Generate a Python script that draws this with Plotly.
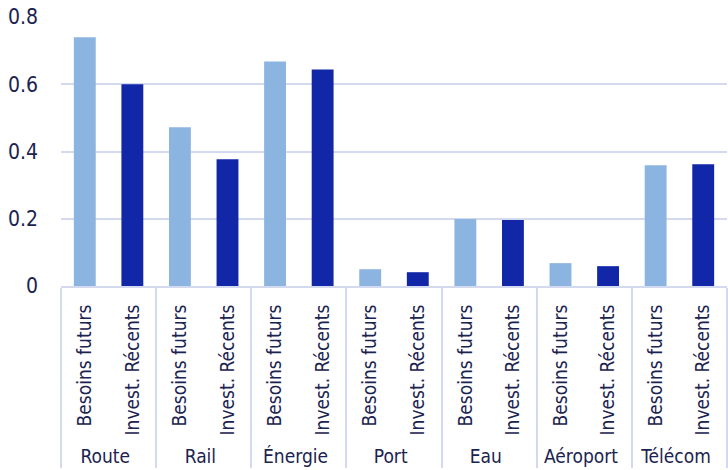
import plotly.graph_objects as go

groups = ["Route", "Rail", "Énergie", "Port", "Eau", "Aéroport", "Télécom"]
sub_labels = ["Besoins futurs", "Invest. Récents"]
besoins = [0.740, 0.472, 0.668, 0.050, 0.199, 0.068, 0.359]
invest = [0.600, 0.377, 0.644, 0.041, 0.196, 0.059, 0.362]
y_ticks = [0, 0.2, 0.4, 0.6, 0.8]
y_tick_text = ["0", "0.2", "0.4", "0.6", "0.8"]

outer, inner, vals, cols = [], [], [], []
for g, b, i in zip(groups, besoins, invest):
    outer += [g, g]
    inner += sub_labels
    vals += [b, i]
    cols += ["#8CB4E0", "#1226A8"]

FONT = "DejaVu Sans Condensed, Liberation Sans Narrow, sans-serif"
TXT = "#1B2350"

fig = go.Figure(go.Bar(x=[outer, inner], y=vals, marker=dict(color=cols, line_width=0), width=0.46))
fig.update_layout(
    width=728, height=470,
    margin=dict(l=61, r=1, t=17, b=184),
    plot_bgcolor="white", paper_bgcolor="white",
    font=dict(family=FONT, size=20, color=TXT),
    showlegend=False,
    bargap=0.5,
)
fig.update_xaxes(
    type="multicategory", tickangle=-90,
    showline=True, linecolor="#D3DAF0", linewidth=2,
    showdividers=True, dividercolor="#D3DAF0", dividerwidth=2,
    ticks="", ticklabelstandoff=9,
    tickfont=dict(family=FONT, size=19, color=TXT),
)
fig.update_yaxes(
    range=[0, 0.8], tickvals=y_ticks, ticktext=y_tick_text,
    showgrid=True, gridcolor="#D3DAF0", gridwidth=2,
    zeroline=False, ticklabelstandoff=22,
    tickfont=dict(family=FONT, size=21, color=TXT),
)
fig.write_html("out.html")
